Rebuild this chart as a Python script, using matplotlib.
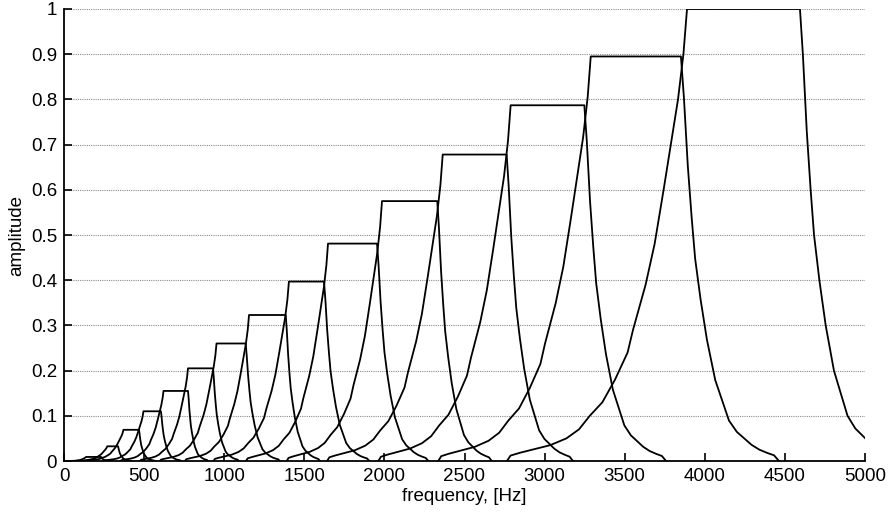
import numpy as np
import matplotlib.pyplot as plt
from matplotlib.ticker import FuncFormatter

plt.rcParams['font.family'] = ['Liberation Sans', 'DejaVu Sans']

# filter bank (Hz / amplitude)
peaks = [1.0, 0.895, 0.787, 0.678, 0.575, 0.481, 0.397, 0.323, 0.26, 0.205,
         0.155, 0.11, 0.069, 0.0325, 0.009]
rise_start = [2765, 2336, 1962, 1642, 1390, 1136, 933, 755, 599, 474,
              353, 250, 125, 69, 25]
top_start = [3889, 3288, 2788, 2364, 1985, 1648, 1404, 1155, 952, 774,
             621, 496, 371, 270, 137]
top_end = [4594, 3851, 3248, 2763, 2330, 1954, 1623, 1384, 1134, 930,
           774, 605, 468, 337, 231]
fall_end = [5200, 4463, 3758, 3177, 2670, 2274, 1906, 1598, 1348, 1092,
            899, 730, 568, 424, 300]

# shape of the skirts, measured on the largest filters (fraction of width, fraction of peak)
rise_t = [0, 0.02, 0.07, 0.19, 0.24, 0.33, 0.4, 0.46, 0.53, 0.6, 0.67, 0.7,
          0.77, 0.82, 0.87, 0.91, 0.95, 0.98, 1.0]
rise_r = [0, 0.012, 0.018, 0.03, 0.035, 0.05, 0.07, 0.10, 0.13, 0.18, 0.24, 0.29,
          0.39, 0.48, 0.6, 0.7, 0.8, 0.9, 1.0]
fall_s = [0, 0.03, 0.07, 0.11, 0.145, 0.2, 0.265, 0.35, 0.42, 0.49, 0.57, 0.65,
          0.72, 0.8, 0.88, 0.95, 1.0]
fall_r = [1, 0.9, 0.73, 0.6, 0.5, 0.4, 0.3, 0.2, 0.15, 0.1, 0.072, 0.055,
          0.04, 0.028, 0.02, 0.014, 0]

fig = plt.figure(figsize=(8.94, 5.2), dpi=100)
ax = fig.add_axes([64 / 894, 59 / 520, 801 / 894, 452 / 520])

rt, rr = np.array(rise_t), np.array(rise_r)
fs, fr = np.array(fall_s), np.array(fall_r)
for p, a, b, c, d in zip(peaks, rise_start, top_start, top_end, fall_end):
    x = np.concatenate([a + rt * (b - a), c + fs * (d - c)])
    y = p * np.concatenate([rr, fr])
    ax.plot(x, y, color='black', lw=1.3)

ax.set_xlim(0, 5000)
ax.set_ylim(0, 1)
ax.set_xticks(np.arange(0, 5001, 500))
ax.set_yticks(np.arange(0, 1.01, 0.1))
ax.yaxis.set_major_formatter(FuncFormatter(lambda v, pos: '%g' % round(v, 1)))
ax.grid(axis='y', linestyle=(0, (1, 1)), color='#8c8c8c', lw=0.8)
ax.set_axisbelow(True)
for s in ['top', 'right']:
    ax.spines[s].set_visible(False)
for s in ['left', 'bottom']:
    ax.spines[s].set_linewidth(1.3)
ax.tick_params(direction='in', length=6, width=1.2, labelsize=13.5, pad=5)
ax.set_xlabel('frequency, [Hz]', fontsize=13.5, labelpad=2)
ax.set_ylabel('amplitude', fontsize=13.5, labelpad=4)

fig.savefig('out.png', dpi=100)
